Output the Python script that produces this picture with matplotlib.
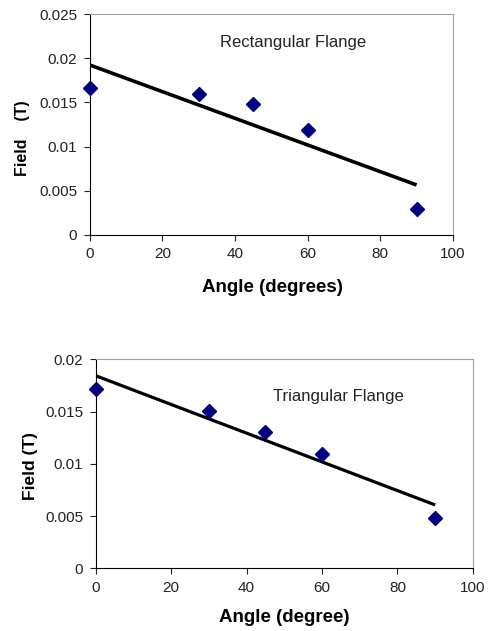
import numpy as np
import matplotlib
matplotlib.use('Agg')
import matplotlib.pyplot as plt

plt.rcParams.update({'font.family': ['Liberation Sans', 'DejaVu Sans'], 'font.size': 10})

angle = [0, 30, 45, 60, 90]
rect_field = [0.01666, 0.01598, 0.01478, 0.0119, 0.00298]
tri_field = [0.01719, 0.01508, 0.01307, 0.01091, 0.00484]
rect_fit = [0.01923, 0.00566]
tri_fit = [0.01843, 0.00606]
fit_x = [0, 90]

fig = plt.figure(figsize=(4.88, 6.31), dpi=100)
ax1 = fig.add_axes([0.184, 0.6276, 0.744, 0.3502])
ax2 = fig.add_axes([0.196, 0.0994, 0.773, 0.3312])


def style(ax, ymax, ystep):
    ax.set_xlim(0, 100)
    ax.set_ylim(0, ymax)
    ax.set_xticks(np.arange(0, 101, 20))
    ax.set_yticks(np.arange(0, ymax + 1e-9, ystep))
    ax.set_yticklabels([f'{v:g}' for v in np.arange(0, ymax + 1e-9, ystep)])
    for s in ['top', 'right']:
        ax.spines[s].set_color('#a0a0a0')
    for s in ['left', 'bottom']:
        ax.spines[s].set_color('black')
    ax.tick_params(direction='out', length=4, labelsize=11, colors='#222222', pad=5)


# top panel: rectangular flange
ax = ax1
ax.plot(fit_x, rect_fit, color='black', lw=2.6, solid_capstyle='butt')
ax.plot(angle, rect_field, 'D', color='#000080', ms=7, clip_on=False, zorder=3)
style(ax, 0.025, 0.005)
ax.text(35.8, 0.0218, 'Rectangular Flange', fontsize=12, va='center', color='#222222')
ax.set_xlabel('Angle (degrees)', fontsize=13.5, fontweight='bold')
ax.xaxis.set_label_coords(0.503, -0.2)
ax.set_ylabel('Field    (T)', fontsize=11.5, fontweight='bold')
ax.yaxis.set_label_coords(-0.165, 0.44)

# bottom panel: triangular flange
ax = ax2
ax.plot(fit_x, tri_fit, color='black', lw=2.3, solid_capstyle='butt')
ax.plot(angle, tri_field, 'D', color='#000080', ms=7, clip_on=False, zorder=3)
style(ax, 0.02, 0.005)
ax.text(46.9, 0.01642, 'Triangular Flange', fontsize=12, va='center', color='#222222')
ax.set_xlabel('Angle (degree)', fontsize=13.5, fontweight='bold')
ax.xaxis.set_label_coords(0.5, -0.196)
ax.set_ylabel('Field (T)', fontsize=12.5, fontweight='bold')
ax.yaxis.set_label_coords(-0.153, 0.49)

fig.savefig('out.png', dpi=100)
